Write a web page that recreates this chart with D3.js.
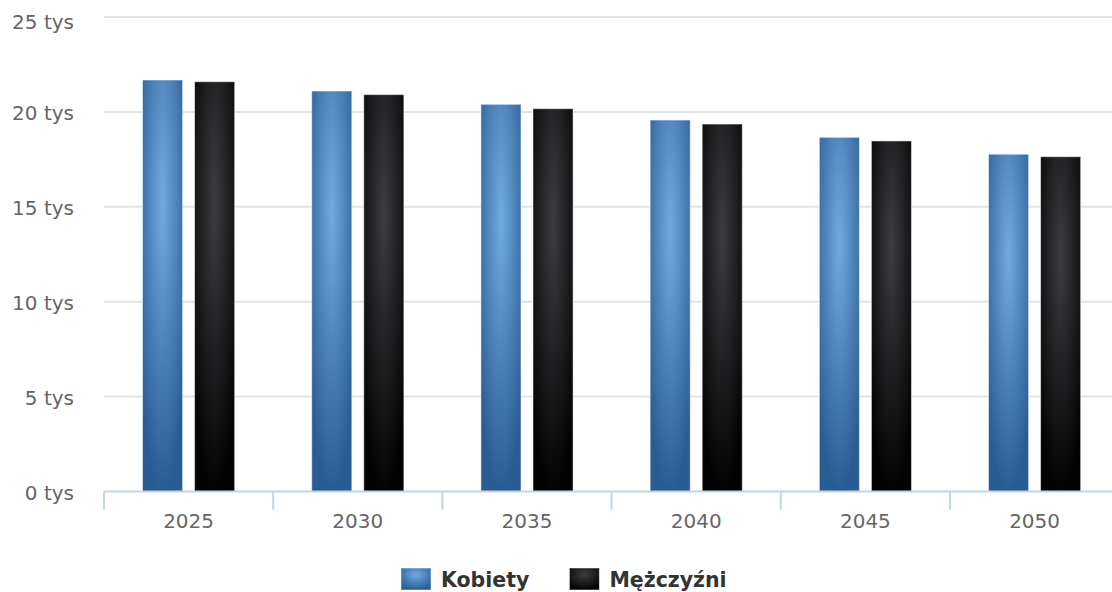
<!DOCTYPE html>
<html>
<head>
<meta charset="utf-8">
<script src="https://cdn.jsdelivr.net/npm/d3@7/dist/d3.min.js"></script>
<style>
  html, body { margin: 0; padding: 0; background: #fff; }
  svg { display: block; }
  text { font-family: "DejaVu Sans", Verdana, sans-serif; }
</style>
</head>
<body>
<svg id="chart" width="1112" height="592"></svg>
<script>
const categories = ["2025", "2030", "2035", "2040", "2045", "2050"];
const seriesNames = ["Kobiety", "Mężczyźni"];
const kobiety = [21680, 21100, 20400, 19570, 18660, 17770];
const mezczyzni = [21590, 20910, 20170, 19360, 18470, 17640];
const yTicks = [0, 5000, 10000, 15000, 20000, 25000];

const seriesValues = [kobiety, mezczyzni];
const gradStops = [["#71abe1", "#2a5c94"], ["#3d3d42", "#030303"]];

const W = 1112, H = 592;
const plotLeft = 104, plotRight = 1119.2, plotTop = 17, plotBottom = 491.5;

const svg = d3.select("#chart");
const defs = svg.append("defs");
gradStops.forEach((s, i) => {
  const g = defs.append("radialGradient")
    .attr("id", "grad" + i)
    .attr("cx", 0.5).attr("cy", 0.3).attr("r", 0.7);
  g.append("stop").attr("offset", "0%").attr("stop-color", s[0]);
  g.append("stop").attr("offset", "100%").attr("stop-color", s[1]);
});

const x0 = d3.scaleBand().domain(categories).range([plotLeft, plotRight]).paddingInner(0).paddingOuter(0);
const x1 = d3.scaleBand().domain(d3.range(seriesNames.length)).range([0, x0.bandwidth()])
  .paddingInner(0.23).paddingOuter(0.74);
const y = d3.scaleLinear().domain([0, 25000]).range([plotBottom, plotTop]);

// gridlines
svg.append("g").selectAll("line").data(yTicks.filter(t => t > 0)).join("line")
  .attr("x1", plotLeft).attr("x2", W)
  .attr("y1", d => y(d)).attr("y2", d => y(d))
  .attr("stroke", "#e3e3e3").attr("stroke-width", 2);

// y labels
svg.append("g").selectAll("text").data(yTicks).join("text")
  .attr("x", 74)
  .attr("y", d => Math.max(y(d), 21))
  .attr("dy", "0.42em")
  .attr("text-anchor", "end")
  .attr("font-size", 20)
  .attr("fill", "#666")
  .text(d => (d / 1000) + " tys");

// bars
const groups = svg.append("g").selectAll("g").data(categories).join("g")
  .attr("transform", d => `translate(${x0(d)},0)`);
groups.selectAll("rect").data((c, ci) => seriesValues.map((vals, si) => ({ si, v: vals[ci] })))
  .join("rect")
  .attr("x", d => x1(d.si))
  .attr("width", x1.bandwidth())
  .attr("y", d => y(d.v))
  .attr("height", d => y(0) - y(d.v))
  .attr("fill", d => `url(#grad${d.si})`)
  .attr("stroke", "#ffffff").attr("stroke-opacity", 0.5).attr("stroke-width", 1);

// x axis line and ticks
svg.append("line")
  .attr("x1", plotLeft).attr("x2", W).attr("y1", plotBottom).attr("y2", plotBottom)
  .attr("stroke", "#c4d3e6").attr("stroke-width", 2);
svg.append("g").selectAll("line").data(categories).join("line")
  .attr("x1", d => x0(d)).attr("x2", d => x0(d))
  .attr("y1", plotBottom).attr("y2", plotBottom + 18)
  .attr("stroke", "#c4d3e6").attr("stroke-width", 2);
svg.append("g").selectAll("text").data(categories).join("text")
  .attr("x", d => x0(d) + x0.bandwidth() / 2)
  .attr("y", 528)
  .attr("text-anchor", "middle")
  .attr("font-size", 20)
  .attr("fill", "#666")
  .text(d => d);

// legend
const legend = svg.append("g");
let lx = 401;
seriesNames.forEach((name, i) => {
  legend.append("rect")
    .attr("x", lx).attr("y", 568).attr("width", 30).attr("height", 22)
    .attr("fill", `url(#grad${i})`)
    .attr("stroke", "#ffffff").attr("stroke-opacity", 0.5);
  const t = legend.append("text")
    .attr("x", lx + 40).attr("y", 587)
    .attr("font-size", 20.5).attr("font-weight", "bold")
    .attr("fill", "#333")
    .text(name);
  lx = lx + 40 + t.node().getComputedTextLength() + 40;
});
</script>
</body>
</html>
